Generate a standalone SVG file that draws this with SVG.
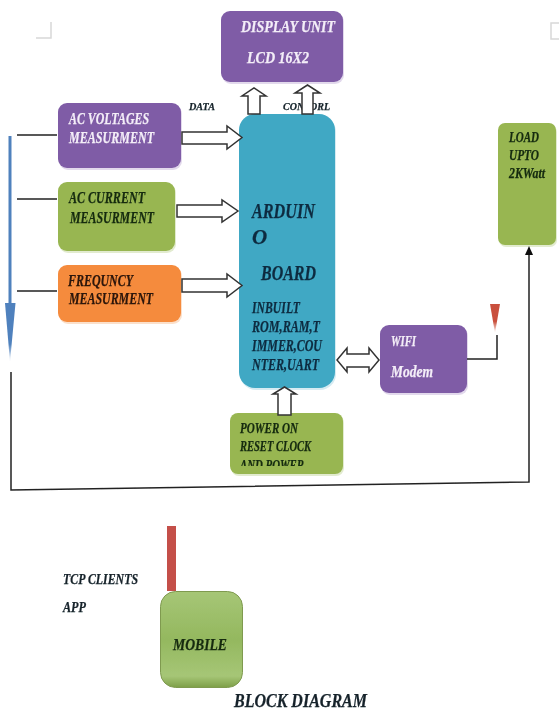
<svg xmlns="http://www.w3.org/2000/svg" width="559" height="711" viewBox="0 0 559 711">
<style>
text{font-family:"Liberation Serif","Times New Roman",serif;font-weight:bold;font-style:italic;fill:#15222a;stroke:#15222a;stroke-width:.25}
.w{fill:#f4eef8;stroke:#f4eef8}
.g{fill:#142a10;stroke:#142a10}
.o{fill:#2a1408;stroke:#2a1408}
.b{fill:#0e2c40;stroke:#0e2c40}
.pur{fill:#7f5ca6;filter:drop-shadow(1px 2px 0 #e2d9ec)}
.grn{fill:#98b651;filter:drop-shadow(1px 2px 0 #e2ebcf)}
.org{fill:#f58b3d;filter:drop-shadow(1px 2px 0 #fbe0cb)}
.tea{fill:#40a8c4;filter:drop-shadow(1px 2px 0 #d6ebf2)}
.ln{fill:none;stroke:#222;stroke-width:1.5}
.blk{fill:#fff;stroke:#333;stroke-width:1.5;stroke-linejoin:miter}
.mark{fill:none;stroke:#d8d8d8;stroke-width:1.5}
</style>
<defs>
<filter id="soft" x="-2%" y="-2%" width="104%" height="104%"><feGaussianBlur stdDeviation="0.45"/></filter>
<linearGradient id="fadeBlue" x1="0" y1="0" x2="0" y2="1"><stop offset="0" stop-color="#4f81bd"/><stop offset="0.7" stop-color="#4f81bd"/><stop offset="1" stop-color="#4f81bd" stop-opacity="0"/></linearGradient>
<linearGradient id="fadeRed" x1="0" y1="0" x2="0" y2="1"><stop offset="0" stop-color="#c9503c"/><stop offset="0.6" stop-color="#c9503c"/><stop offset="1" stop-color="#c9503c" stop-opacity="0"/></linearGradient>
<linearGradient id="mob" x1="0" y1="0" x2="0" y2="1"><stop offset="0" stop-color="#a6c676"/><stop offset="0.5" stop-color="#94b85f"/><stop offset="0.88" stop-color="#a6c676"/><stop offset="1" stop-color="#7d9f48"/></linearGradient>
<clipPath id="pw"><rect x="231" y="414" width="112" height="52"/></clipPath>
<marker id="tip" markerWidth="10" markerHeight="10" refX="5" refY="4" orient="auto" markerUnits="userSpaceOnUse"><path d="M0 0L9 4L0 8z" fill="#111"/></marker>
</defs>
<g filter="url(#soft)">
<g id="corner-marks">
<path class="mark" d="M51 22V38H36"/>
<path class="mark" d="M559 23H551V39H559"/>
</g>
<g id="labels">
<text x="189" y="110" font-size="11" textLength="26" lengthAdjust="spacingAndGlyphs">DATA</text>
<text x="283" y="110" font-size="11" textLength="47" lengthAdjust="spacingAndGlyphs">CONTORL</text>
<text x="63" y="584" font-size="15" textLength="75" lengthAdjust="spacingAndGlyphs">TCP CLIENTS</text>
<text x="63" y="612" font-size="15" textLength="23" lengthAdjust="spacingAndGlyphs">APP</text>
<text x="234" y="707" font-size="19" textLength="133" lengthAdjust="spacingAndGlyphs">BLOCK DIAGRAM</text>
</g>
<g id="display-unit">
<rect class="pur" x="221" y="11" width="122" height="71" rx="9"/>
<text class="w" x="241" y="32" font-size="16" textLength="94" lengthAdjust="spacingAndGlyphs">DISPLAY UNIT</text>
<text class="w" x="247" y="63" font-size="16" textLength="62" lengthAdjust="spacingAndGlyphs">LCD 16X2</text>
</g>
<g id="ac-voltages">
<rect class="pur" x="58" y="103" width="123" height="65" rx="9"/>
<text class="w" x="69" y="124" font-size="17" textLength="80" lengthAdjust="spacingAndGlyphs">AC VOLTAGES</text>
<text class="w" x="69" y="143" font-size="17" textLength="85" lengthAdjust="spacingAndGlyphs">MEASURMENT</text>
</g>
<g id="ac-current">
<rect class="grn" x="58" y="182" width="117" height="69" rx="9"/>
<text class="g" x="69" y="203" font-size="17" textLength="76" lengthAdjust="spacingAndGlyphs">AC CURRENT</text>
<text class="g" x="70" y="223" font-size="17" textLength="84" lengthAdjust="spacingAndGlyphs">MEASURMENT</text>
</g>
<g id="frequency">
<rect class="org" x="58" y="265" width="123" height="57" rx="9"/>
<text class="o" x="68" y="286" font-size="17" textLength="65" lengthAdjust="spacingAndGlyphs">FREQUNCY</text>
<text class="o" x="69" y="304" font-size="17" textLength="84" lengthAdjust="spacingAndGlyphs">MEASURMENT</text>
</g>
<g id="arduino-board">
<rect class="tea" x="239" y="114" width="96" height="274" rx="16"/>
<text class="b" x="252" y="218" font-size="21" textLength="63" lengthAdjust="spacingAndGlyphs">ARDUIN</text>
<text class="b" x="252" y="244" font-size="21">O</text>
<text class="b" x="261" y="280" font-size="21" textLength="55" lengthAdjust="spacingAndGlyphs">BOARD</text>
<text class="b" x="252" y="313" font-size="16" textLength="48" lengthAdjust="spacingAndGlyphs">INBUILT</text>
<text class="b" x="252" y="332" font-size="16" textLength="68" lengthAdjust="spacingAndGlyphs">ROM,RAM,T</text>
<text class="b" x="252" y="351" font-size="16" textLength="70" lengthAdjust="spacingAndGlyphs">IMMER,COU</text>
<text class="b" x="252" y="370" font-size="16" textLength="67" lengthAdjust="spacingAndGlyphs">NTER,UART</text>
</g>
<g id="wifi-modem">
<rect class="pur" x="380" y="325" width="87" height="68" rx="9"/>
<text class="w" x="391" y="346" font-size="15" textLength="25" lengthAdjust="spacingAndGlyphs">WIFI</text>
<text class="w" x="391" y="377" font-size="16" textLength="42" lengthAdjust="spacingAndGlyphs">Modem</text>
</g>
<g id="power-on">
<rect class="grn" x="230" y="413" width="113" height="61" rx="8"/>
<g clip-path="url(#pw)">
<text class="g" x="240" y="433" font-size="14" textLength="58" lengthAdjust="spacingAndGlyphs">POWER ON</text>
<text class="g" x="240" y="451" font-size="14" textLength="71" lengthAdjust="spacingAndGlyphs">RESET CLOCK</text>
<text class="g" x="240" y="470" font-size="14" textLength="64" lengthAdjust="spacingAndGlyphs">AND POWER</text>
</g>
</g>
<g id="load">
<rect class="grn" x="498" y="123" width="58" height="122" rx="7"/>
<text class="g" x="509" y="142" font-size="14" textLength="30" lengthAdjust="spacingAndGlyphs">LOAD</text>
<text class="g" x="509" y="160" font-size="14" textLength="30" lengthAdjust="spacingAndGlyphs">UPTO</text>
<text class="g" x="509" y="178" font-size="14" textLength="36" lengthAdjust="spacingAndGlyphs">2KWatt</text>
</g>
<g id="mobile">
<rect x="167" y="526" width="9" height="65" fill="#c44f49"/>
<rect x="160.500" y="591.500" width="82" height="96" rx="15" fill="url(#mob)" stroke="#7f9a50" stroke-width="1"/>
<text class="g" x="173" y="650" font-size="17" textLength="54" lengthAdjust="spacingAndGlyphs">MOBILE</text>
</g>
<g id="connectors">
<path class="ln" d="M17 135H57M17 199H57M17 291H57"/>
<rect x="8.500" y="136" width="3" height="168" fill="#4f81bd"/>
<path d="M5 303H15.500L10 362z" fill="url(#fadeBlue)"/>
<path class="ln" d="M11 372V490L529 482V250" marker-end="url(#tip)"/>
<path class="ln" d="M467 359H497V335"/>
<path d="M490 304H500L495 333z" fill="url(#fadeRed)"/>
<path class="blk" d="M248 114V96H242L254 88L266 96H260V114z"/>
<path class="blk" d="M302 114V93H295L307.500 85L320 93H313V114z"/>
<path class="blk" d="M182 132H227V126L242 137.500L227 149V144H182z"/>
<path class="blk" d="M177 205H222V200L238 211L222 222V217H177z"/>
<path class="blk" d="M182 279H227V274L242 285.500L227 297V292H182z"/>
<path class="blk" d="M278 415V394H273L284.500 387L296 394H291V415z"/>
<path class="blk" d="M337 360L347 348V354H369V348L379 360L369 372V367H347V372z"/>
</g>
</g>
</svg>
